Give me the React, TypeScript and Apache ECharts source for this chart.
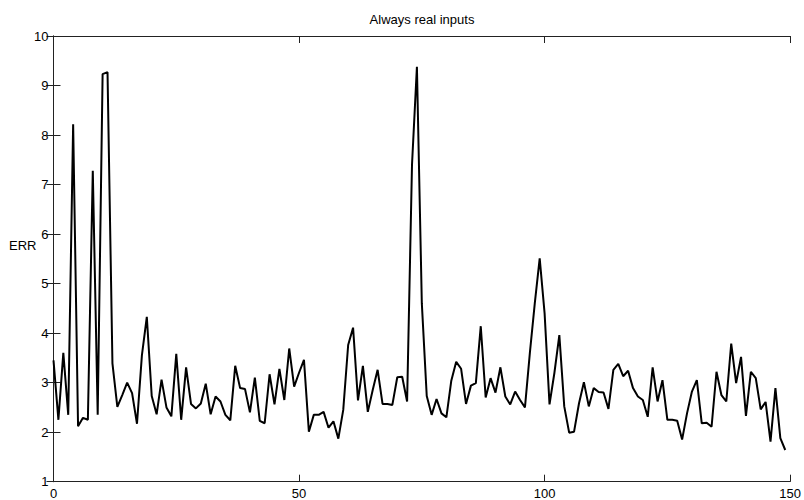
import React, { useEffect, useRef } from "react";
import * as echarts from "echarts";

const TITLE = "Always real inputs";
const Y_NAME = "ERR";
const X_MIN = 0;
const X_MAX = 150;
const X_INTERVAL = 50;
const Y_MIN = 1;
const Y_MAX = 10;
const Y_INTERVAL = 1;

const errValues: number[] = [
  3.45, 2.25, 3.6, 2.35, 8.22, 2.12, 2.29, 2.25, 7.28, 2.35,
  9.23, 9.27, 3.39, 2.51, 2.75, 3.0, 2.79, 2.17, 3.55, 4.33,
  2.73, 2.36, 3.06, 2.5, 2.32, 3.58, 2.25, 3.31, 2.57, 2.48,
  2.58, 2.98, 2.36, 2.72, 2.62, 2.35, 2.24, 3.34, 2.89, 2.87,
  2.4, 3.1, 2.23, 2.18, 3.17, 2.56, 3.28, 2.65, 3.69, 2.92,
  3.2, 3.46, 2.01, 2.35, 2.35, 2.41, 2.09, 2.22, 1.87, 2.45,
  3.76, 4.11, 2.64, 3.34, 2.41, 2.85, 3.26, 2.57, 2.57, 2.55,
  3.11, 3.12, 2.62, 7.4, 9.38, 4.6, 2.73, 2.35, 2.67, 2.38,
  2.3, 3.04, 3.42, 3.28, 2.57, 2.94, 2.99, 4.14, 2.7, 3.09,
  2.8, 3.31, 2.72, 2.56, 2.82, 2.65, 2.5, 3.6, 4.6, 5.51,
  4.4, 2.56, 3.2, 3.96, 2.52, 1.99, 2.01, 2.58, 3.01, 2.52,
  2.89, 2.81, 2.8, 2.47, 3.26, 3.38, 3.13, 3.24, 2.89, 2.72,
  2.65, 2.31, 3.31, 2.62, 3.05, 2.25, 2.25, 2.23, 1.85, 2.38,
  2.82, 3.05, 2.18, 2.19, 2.11, 3.22, 2.75, 2.62, 3.79, 2.99,
  3.52, 2.33, 3.22, 3.09, 2.46, 2.61, 1.81, 2.89, 1.88, 1.64,
];

const FONT = "'Liberation Sans', Arial, Helvetica, sans-serif";

export default function App() {
  const ref = useRef<HTMLDivElement>(null);

  useEffect(() => {
    if (!ref.current) return;
    const chart = echarts.init(ref.current, undefined, { renderer: "svg" });
    const axisLine = { show: true, lineStyle: { color: "#222", width: 1 } };
    const axisTick = { show: true, inside: true, length: 7, lineStyle: { color: "#222", width: 1 } };
    const labelStyle = { color: "#000", fontSize: 13, fontFamily: FONT };

    chart.setOption({
      animation: false,
      backgroundColor: "#fff",
      grid: { left: 53.5, right: 12.3, top: 36, bottom: 18.3, containLabel: false },
      xAxis: [
        {
          type: "value",
          min: X_MIN,
          max: X_MAX,
          interval: X_INTERVAL,
          position: "bottom",
          axisLine,
          axisTick,
          axisLabel: { ...labelStyle, margin: 5 },
          splitLine: { show: false },
        },
        {
          type: "value",
          min: X_MIN,
          max: X_MAX,
          interval: X_INTERVAL,
          position: "top",
          axisLine,
          axisTick,
          axisLabel: { show: false },
          splitLine: { show: false },
        },
      ],
      yAxis: [
        {
          type: "value",
          min: Y_MIN,
          max: Y_MAX,
          interval: Y_INTERVAL,
          position: "left",
          axisLine,
          axisTick,
          axisLabel: { ...labelStyle, margin: 5 },
          splitLine: { show: false },
        },
        {
          type: "value",
          min: Y_MIN,
          max: Y_MAX,
          interval: Y_INTERVAL,
          position: "right",
          axisLine,
          axisTick,
          axisLabel: { show: false },
          splitLine: { show: false },
        },
      ],
      graphic: [
        {
          type: "text",
          x: 422,
          y: 19,
          style: {
            text: TITLE,
            align: "center",
            verticalAlign: "middle",
            fontSize: 13,
            fontFamily: FONT,
            fill: "#000",
          },
        },
        {
          type: "text",
          x: 9,
          y: 245,
          style: {
            text: Y_NAME,
            align: "left",
            verticalAlign: "middle",
            fontSize: 13,
            fontFamily: FONT,
            fill: "#000",
          },
        },
      ],
      series: [
        {
          type: "line",
          xAxisIndex: 0,
          yAxisIndex: 0,
          data: errValues.map((v, i) => [i, v]),
          showSymbol: false,
          symbol: "none",
          lineStyle: { color: "#000", width: 2 },
          itemStyle: { color: "#000" },
        },
      ],
    });

    return () => chart.dispose();
  }, []);

  return (
    <div
      ref={ref}
      style={{ position: "fixed", left: 0, top: 0, width: 804, height: 500, background: "#fff" }}
    />
  );
}
